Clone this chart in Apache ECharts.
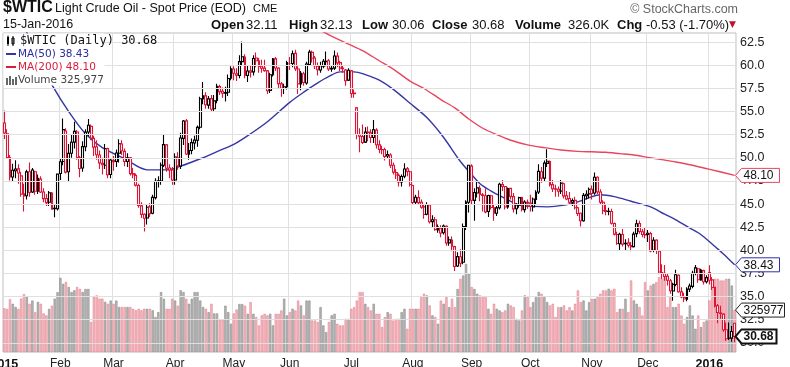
<!DOCTYPE html>
<html><head><meta charset="utf-8">
<script src="https://cdn.jsdelivr.net/npm/echarts/dist/echarts.min.js"></script>
<style>html,body{margin:0;padding:0;background:#fff}#c{width:790px;height:367px}</style>
</head><body><div id="c"></div>
<script>
// rows: [day, open, high, low, close, volume (thousands)]
const prevClose2014 = 53.27;
const jan2015 = [[2,53.76,55.11,52.03,52.69,340],[5,52.61,53.09,49.92,50.04,335],[6,50.02,50.30,47.55,47.93,410],[7,47.93,49.35,47.40,48.65,375],[8,48.60,49.75,47.80,48.79,350],[9,48.80,49.30,47.20,48.36,335],[12,48.05,48.50,45.80,46.07,415],[13,46.10,47.20,44.20,45.89,450],[14,45.90,48.70,45.50,48.48,430],[15,48.50,49.50,45.80,46.25,375],[16,46.30,48.90,46.20,48.69,400],[20,48.50,48.60,46.00,46.39,310],[21,46.40,48.20,46.10,47.78,390],[22,47.70,48.00,46.20,46.31,375],[23,46.30,46.70,45.20,45.59,300],[26,45.60,46.10,44.80,45.15,285],[27,45.20,46.40,44.80,46.23,335],[28,46.20,46.30,44.40,44.45,360],[29,44.50,45.00,43.58,44.53,415],[30,44.50,48.30,44.30,48.24,465]];
const feb2015 = [[2,48.30,49.90,47.60,49.57,577],[3,49.60,54.24,49.20,53.05,530],[4,52.90,53.20,48.30,48.45,545],[5,48.50,51.50,47.40,50.48,505],[6,50.50,52.50,50.00,51.69,466],[9,51.70,53.90,51.00,52.86,480],[10,52.80,53.00,49.80,50.02,505],[11,50.00,50.20,47.90,48.84,490],[12,48.90,51.80,48.50,51.21,466],[13,51.20,53.10,50.70,52.78,490],[17,52.80,54.20,52.30,53.53,490],[18,53.40,53.60,51.90,52.14,233],[19,52.10,52.40,50.20,51.16,430],[20,51.20,51.90,49.80,50.34,440],[23,50.30,50.80,48.80,49.45,415],[24,49.40,50.00,48.20,49.25,415],[25,49.20,51.50,48.80,50.99,390],[26,51.00,51.10,47.80,48.17,375],[27,48.20,49.90,47.80,49.76,400]];
const mar2015 = [[2,49.70,50.20,48.60,49.59,375],[3,49.60,50.90,49.00,50.52,400],[4,50.50,52.00,49.50,51.53,350],[5,51.50,51.90,50.30,50.76,350],[6,50.70,51.00,49.10,49.61,350],[9,49.60,50.50,49.00,50.00,350],[10,50.00,50.10,48.10,48.29,350],[11,48.30,48.90,47.80,48.17,336],[12,48.10,48.30,46.90,47.05,324],[13,47.00,47.20,44.60,44.84,336],[16,44.80,45.20,43.50,43.88,324],[17,43.90,44.00,42.03,43.46,336],[18,43.50,45.00,42.80,44.66,336],[19,44.70,45.10,43.60,43.96,336],[20,44.00,46.00,43.90,45.72,324],[23,45.70,47.80,45.50,47.45,272],[24,47.50,48.00,46.80,47.51,310],[25,47.50,49.50,47.10,49.21,466],[26,49.20,52.48,49.00,51.43,414],[27,51.40,51.50,48.50,48.87,336],[30,48.90,49.30,47.80,48.68,336],[31,48.70,49.00,47.10,47.60,414]];
const apr2015 = [[1,47.60,50.50,47.10,50.09,400],[2,50.00,50.60,48.70,49.14,360],[6,49.10,52.70,48.80,52.14,480],[7,52.10,54.10,51.40,53.98,466],[8,54.00,54.20,50.30,50.42,414],[9,50.40,51.60,49.80,50.79,375],[10,50.80,52.10,50.40,51.64,414],[13,51.60,52.40,50.90,51.91,466],[14,51.90,53.50,51.20,53.29,466],[15,53.30,56.60,53.10,56.39,400],[16,56.40,58.20,55.80,56.71,350],[17,56.70,57.10,55.30,55.74,336],[20,55.70,56.70,55.30,56.38,310],[21,56.40,56.80,55.00,55.26,375],[22,55.30,56.80,55.00,56.16,300],[23,56.20,58.00,55.90,57.74,300],[24,57.70,57.90,56.80,57.15,250],[27,57.20,57.60,56.50,56.99,250],[28,57.00,57.70,56.10,57.06,360],[29,57.10,59.00,56.70,58.58,310],[30,58.60,59.90,58.40,59.63,220]];
const may2015 = [[1,59.60,59.90,58.40,59.15,300],[4,59.10,59.70,58.30,58.93,330],[5,58.90,61.10,58.60,60.40,373],[6,60.40,62.58,60.00,60.93,373],[7,60.90,61.20,58.60,58.94,360],[8,58.90,60.00,58.20,59.39,297],[11,59.40,60.00,58.70,59.25,388],[12,59.30,61.10,58.90,60.75,297],[13,60.80,61.40,59.80,60.50,272],[14,60.50,60.80,59.20,59.88,207],[15,59.90,60.60,59.20,59.69,285],[18,59.70,60.60,59.30,59.43,297],[19,59.40,59.50,56.90,57.26,285],[20,57.30,59.20,57.00,58.98,297],[21,59.00,60.80,58.80,60.72,207],[22,60.70,60.90,59.40,59.72,297],[26,59.70,59.80,57.50,58.03,297],[27,58.00,58.20,56.60,57.51,323],[28,57.50,58.00,56.90,57.68,414],[29,57.70,60.50,57.40,60.30,285]];
const jun2015 = [[1,60.20,60.90,59.50,60.20,310],[2,60.20,61.60,59.80,61.26,336],[3,61.30,61.70,59.40,59.64,323],[4,59.60,59.90,56.90,58.00,400],[5,58.00,59.40,57.30,59.13,362],[8,59.10,59.30,57.80,58.14,285],[9,58.10,60.40,57.90,60.14,400],[10,60.10,61.70,60.00,61.43,400],[11,61.40,61.60,60.30,60.77,245],[12,60.80,61.00,59.60,59.96,245],[15,59.90,60.30,58.90,59.52,233],[16,59.50,60.40,59.20,59.97,349],[17,59.90,60.70,59.70,60.45,207],[18,60.40,61.50,59.90,60.45,155],[19,60.50,60.70,59.40,59.61,233],[22,59.60,60.00,59.30,59.68,285],[23,59.70,61.60,59.50,61.01,297],[24,61.00,61.40,59.80,60.27,220],[25,60.30,60.50,59.40,59.70,207],[26,59.70,60.00,59.20,59.63,207],[29,59.50,59.60,57.80,58.33,258],[30,58.40,59.70,58.30,59.47,258]];
const jul2015 = [[1,59.40,59.50,56.50,56.96,336],[2,57.00,57.40,56.50,56.93,349],[6,55.40,55.50,52.00,52.53,400],[7,52.50,53.20,50.60,52.33,466],[8,52.30,53.60,51.50,51.65,466],[9,51.70,53.30,51.60,52.78,375],[10,52.80,53.40,51.80,52.74,349],[13,52.70,53.10,51.60,52.20,323],[14,52.20,54.10,51.60,53.04,375],[15,53.00,53.20,51.00,51.41,297],[16,51.40,51.90,50.50,50.91,297],[17,50.90,51.30,50.40,50.89,194],[20,50.90,51.10,49.70,50.15,272],[21,50.20,50.80,49.90,50.36,310],[22,50.30,50.50,48.90,49.19,297],[23,49.20,49.50,48.20,48.45,245],[24,48.40,48.80,47.70,48.14,258],[27,48.10,48.30,46.90,47.39,258],[28,47.40,48.20,46.90,47.98,310],[29,48.00,49.40,47.80,48.79,336],[30,48.80,49.00,48.00,48.52,181],[31,48.50,48.60,46.90,47.12,336]];
const aug2015 = [[3,47.00,47.10,45.00,45.17,336],[4,45.20,46.00,44.90,45.74,336],[5,45.70,46.50,44.90,45.15,336],[6,45.20,45.50,44.50,44.66,427],[7,44.70,44.90,43.40,43.87,453],[10,43.90,45.20,43.80,44.96,440],[11,44.90,45.00,42.90,43.08,362],[12,43.10,43.80,42.40,43.30,285],[13,43.30,43.60,42.10,42.23,272],[14,42.20,42.80,41.90,42.50,220],[17,42.40,42.70,41.40,41.87,400],[18,41.90,42.80,41.70,42.62,375],[19,42.60,42.70,40.50,40.80,427],[20,40.80,41.50,40.50,41.14,349],[21,41.10,41.50,39.90,40.45,414],[24,40.40,40.50,37.75,38.24,349],[25,38.30,39.80,38.20,39.31,490],[26,39.30,40.10,38.20,38.60,569],[27,38.70,42.90,38.50,42.56,595],[28,42.50,45.40,42.20,45.22,685],[31,45.20,49.20,44.10,49.20,608]];
const sep2015 = [[1,49.10,49.30,44.90,45.41,505],[2,45.40,46.70,43.20,46.25,490],[3,46.20,47.50,45.70,46.75,453],[4,46.70,47.00,45.30,46.05,440],[8,46.00,46.20,44.20,45.94,427],[9,45.90,46.70,44.00,44.15,427],[10,44.20,46.00,43.60,45.92,336],[11,45.90,46.00,44.40,44.63,297],[14,44.60,44.90,43.20,44.00,375],[15,44.00,44.80,43.70,44.59,336],[16,44.60,47.30,44.40,47.15,323],[17,47.10,47.60,46.40,46.90,310],[18,46.90,46.90,44.40,44.68,323],[21,44.70,46.80,44.50,46.68,375],[22,46.70,46.70,45.50,45.83,362],[23,45.80,46.20,44.10,44.48,349],[24,44.50,45.10,43.90,44.91,258],[25,44.90,45.80,44.60,45.70,245],[28,45.70,45.80,44.20,44.43,323],[29,44.40,45.40,44.10,45.23,440],[30,45.20,45.50,44.50,45.09,427]];
const oct2015 = [[1,45.10,46.00,44.20,44.74,349],[2,44.70,45.70,44.20,45.54,388],[5,45.50,46.50,45.00,46.26,427],[6,46.30,49.30,46.10,48.53,466],[7,48.50,49.00,47.30,47.81,453],[8,47.80,49.70,47.40,49.43,427],[9,49.40,50.92,49.00,49.63,388],[12,49.60,49.70,46.90,47.10,362],[13,47.10,47.60,46.30,46.66,375],[14,46.60,47.10,45.80,46.64,272],[15,46.60,46.90,45.80,46.38,349],[16,46.40,47.60,46.10,47.26,349],[19,47.20,47.30,45.60,45.89,362],[20,45.90,46.40,45.40,45.55,323],[21,45.60,46.30,45.00,45.20,349],[22,45.20,45.60,44.80,45.38,323],[23,45.40,45.80,44.40,44.60,375],[26,44.60,44.70,43.70,43.98,479],[27,44.00,44.10,42.58,43.20,388],[28,43.20,46.20,43.10,45.94,401],[29,45.90,46.50,45.50,46.06,323],[30,46.10,46.80,45.60,46.59,388]];
const nov2015 = [[2,46.60,47.00,45.50,46.14,414],[3,46.20,48.40,46.00,47.90,414],[4,47.90,48.00,46.10,46.32,427],[5,46.30,46.60,44.90,45.20,453],[6,45.20,45.40,43.90,44.29,479],[9,44.30,45.00,43.80,44.21,479],[10,44.20,44.60,43.80,44.21,492],[11,44.20,44.50,42.80,42.93,479],[12,42.90,43.00,41.60,41.75,492],[13,41.70,42.00,40.60,40.74,310],[16,40.70,41.90,40.00,41.74,336],[17,41.70,42.30,40.40,40.67,336],[18,40.70,41.20,40.00,40.75,414],[19,40.80,41.30,40.30,40.54,310],[20,40.50,40.90,39.90,40.39,556],[23,40.40,42.00,40.30,41.75,401],[24,41.80,43.30,41.40,42.87,375],[25,42.90,43.20,41.80,42.04,349],[27,42.00,42.30,41.40,41.71,284],[30,41.70,42.50,41.30,41.65,543]];
const dec2015 = [[1,41.70,42.20,40.90,41.85,479],[2,41.80,42.00,39.80,39.94,517],[3,40.00,41.40,39.80,41.08,530],[4,41.10,41.20,39.60,39.97,543],[7,39.90,40.00,37.40,37.65,582],[8,37.60,38.50,36.90,37.51,569],[9,37.50,38.40,36.70,37.16,582],[10,37.20,37.50,36.20,36.76,349],[11,36.70,36.90,35.30,35.62,427],[14,35.60,36.50,34.53,36.31,349],[15,36.30,37.90,36.10,37.35,349],[16,37.30,37.40,35.40,35.52,375],[17,35.50,36.00,34.80,34.95,284],[18,34.90,35.40,34.40,34.73,220],[21,34.70,36.00,34.50,35.81,272],[22,35.80,36.40,35.50,36.14,362],[23,36.10,37.80,35.90,37.50,284],[24,37.50,38.40,37.30,38.10,181],[28,38.00,38.10,36.50,36.81,284],[29,36.80,38.00,36.70,37.87,194],[30,37.80,37.90,36.30,36.60,233],[31,36.60,37.30,36.40,37.04,245]];
const jan2016 = [[4,37.60,38.39,36.30,36.76,401],[5,36.80,37.10,35.70,35.97,556],[6,36.00,36.00,33.80,33.97,569],[7,34.00,34.20,32.10,33.27,569],[8,33.20,34.00,32.60,33.16,556],[11,33.10,33.20,31.20,31.41,556],[12,31.40,32.20,30.20,30.44,569],[13,30.50,32.20,30.30,30.48,569],[14,30.50,31.80,30.10,31.21,517],[15,32.11,32.13,30.06,30.68,325.977]];

const monthKeys = ['2015-01','2015-02','2015-03','2015-04','2015-05','2015-06','2015-07','2015-08','2015-09','2015-10','2015-11','2015-12','2016-01'];
const monthRows = [jan2015,feb2015,mar2015,apr2015,may2015,jun2015,jul2015,aug2015,sep2015,oct2015,nov2015,dec2015,jan2016];
const monthNames = ['Jan','Feb','Mar','Apr','May','Jun','Jul','Aug','Sep','Oct','Nov','Dec'];
const priceTicks = [30,32.5,35,37.5,40,42.5,45,47.5,50,52.5,55,57.5,60,62.5];

const ma50Points = [['2015-01-12',64.8],['2015-01-14',63.55],['2015-01-21',60.8],['2015-01-28',57.9],['2015-02-05',55.0],['2015-02-13',52.6],['2015-02-24',51.1],['2015-03-06',49.9],['2015-03-18',48.7],['2015-03-27',48.7],['2015-04-06',49.1],['2015-04-15',49.9],['2015-04-24',50.8],['2015-05-01',51.45],['2015-05-11',52.6],['2015-05-19',53.9],['2015-06-01',56.0],['2015-06-08',57.1],['2015-06-15',58.1],['2015-06-19',58.8],['2015-06-25',59.3],['2015-07-02',59.3],['2015-07-09',59.0],['2015-07-16',58.4],['2015-07-23',57.4],['2015-07-31',55.9],['2015-08-10',54.35],['2015-08-18',52.2],['2015-08-26',49.6],['2015-09-01',48.2],['2015-09-04',47.2],['2015-09-11',46.4],['2015-09-16',45.9],['2015-09-22',45.3],['2015-09-25',44.9],['2015-10-02',44.75],['2015-10-09',44.7],['2015-10-15',44.8],['2015-10-21',45.0],['2015-10-27',45.35],['2015-10-30',45.7],['2015-11-05',46.0],['2015-11-12',45.8],['2015-11-20',45.3],['2015-12-02',44.7],['2015-12-09',43.9],['2015-12-15',43.3],['2015-12-22',42.4],['2015-12-28',41.9],['2015-12-31',41.2],['2016-01-06',40.4],['2016-01-11',39.6],['2016-01-15',38.43]];
const ma200Points = [['2015-06-05',64.6],['2015-06-09',64.2],['2015-06-16',63.75],['2015-06-23',63.0],['2015-06-30',62.3],['2015-07-08',61.6],['2015-07-16',60.5],['2015-07-23',59.6],['2015-07-31',58.3],['2015-08-07',57.5],['2015-08-17',56.3],['2015-08-24',55.4],['2015-08-31',54.2],['2015-09-08',53.2],['2015-09-15',52.5],['2015-09-22',51.9],['2015-09-30',51.4],['2015-10-08',51.1],['2015-10-16',50.85],['2015-10-26',50.7],['2015-11-02',50.65],['2015-11-09',50.6],['2015-11-16',50.45],['2015-11-23',50.3],['2015-12-01',50.05],['2015-12-08',49.8],['2015-12-15',49.55],['2015-12-22',49.25],['2015-12-30',48.9],['2016-01-07',48.55],['2016-01-15',48.10]];

const RED = '#dc1436', BLACK = '#000000';
const BLUE = '#3636a6', MA200C = '#e8465f';
const FONT = '"Liberation Sans", Arial, sans-serif';

const categories = [], candleData = [], volumeData = [];
let prev = prevClose2014;
monthKeys.forEach((mk, mi) => {
  monthRows[mi].forEach(r => {
    const [d, o, h, l, c, v] = r;
    categories.push(mk + '-' + String(d).padStart(2, '0'));
    const down = c < prev;
    const col = down ? RED : BLACK;
    candleData.push({ value: [o, c, l, h], itemStyle: { color: '#ffffff', color0: col, borderColor: col, borderColor0: col } });
    volumeData.push({ value: v, itemStyle: { color: down ? '#f3bcc2' : '#b5b5b5', borderColor: down ? '#e5808d' : '#8c8c8c' } });
    prev = c;
  });
});
const firstIdx = new Set();
categories.forEach((c, i) => { if (i === 0 || c.slice(0, 7) !== categories[i - 1].slice(0, 7)) firstIdx.add(i); });
const isMonthStart = (i) => firstIdx.has(i);
const isPriceTick = (v) => priceTicks.some(t => Math.abs(t - v) < 1e-6);

const chart = echarts.init(document.getElementById('c'), null, { renderer: 'canvas' });
chart.setOption({
  animation: false,
  backgroundColor: '#ffffff',
  grid: { left: 3, right: 54, top: 33, bottom: 15, show: true, borderColor: '#bdbdbd', borderWidth: 1, backgroundColor: 'rgba(0,0,0,0)', containLabel: false, outerBoundsMode: 'none' },
  xAxis: {
    type: 'category', data: categories, boundaryGap: true,
    axisLine: { show: false }, axisTick: { show: false },
    axisLabel: {
      interval: isMonthStart, margin: 6, color: '#222', fontSize: 12, fontFamily: FONT,
      alignMinLabel: 'center', alignMaxLabel: 'center',
      formatter: (v) => { const m = +v.slice(5, 7); return m === 1 ? '{y|' + v.slice(0, 4) + '}' : monthNames[m - 1]; },
      rich: { y: { fontWeight: 'bold', fontSize: 12.5, color: '#111', fontFamily: FONT } }
    },
    splitLine: { show: true, interval: isMonthStart, lineStyle: { color: '#e0e0e0', width: 1 } }
  },
  yAxis: [
    { type: 'value', position: 'right', min: 29, max: 63.5, interval: 0.5,
      axisLine: { show: false }, axisTick: { show: false }, splitLine: { show: false },
      axisLabel: { margin: 4, color: '#222', fontSize: 12.5, fontFamily: FONT, formatter: (v) => isPriceTick(v) ? v.toFixed(1) : '' } },
    { type: 'value', min: 0, max: 2480, show: false }
  ],
  series: [
    { type: 'line', data: [], yAxisIndex: 0, z: 0, silent: true,
      markLine: { silent: true, symbol: ['none', 'none'], animation: false, label: { show: false },
        lineStyle: { color: '#e0e0e0', width: 1, type: 'solid' }, emphasis: { disabled: true },
        data: priceTicks.map(v => ({ yAxis: v })) } },
    { type: 'bar', data: volumeData, xAxisIndex: 0, yAxisIndex: 1, barWidth: 2.3, z: 1, silent: true, itemStyle: { borderWidth: 0.6 } },
    { type: 'line', data: ma200Points, yAxisIndex: 0, smooth: 0.3, showSymbol: false, z: 2, silent: true, lineStyle: { color: MA200C, width: 1.4 } },
    { type: 'line', data: ma50Points, yAxisIndex: 0, smooth: 0.3, showSymbol: false, z: 2, silent: true, lineStyle: { color: BLUE, width: 1.4 } },
    { type: 'candlestick', data: candleData, yAxisIndex: 0, barWidth: 2.4, z: 3, silent: true, itemStyle: { borderWidth: 1.1 } }
  ]
});

// annotation graphics
const lastRow = jan2016[jan2016.length - 1];
const lastClose = lastRow[4];
const lastVol = Math.round(lastRow[5] * 1000);
const lastMa50 = ma50Points[ma50Points.length - 1][1];
const lastMa200 = ma200Points[ma200Points.length - 1][1];
const plotRight = 790 - 54;

function tag(value, axisIdx, text, color, w, bold) {
  const y = chart.convertToPixel({ yAxisIndex: axisIdx }, value);
  const x0 = plotRight - 0.5, h = 7;
  return [
    { type: 'polygon', z: 100, shape: { points: [[x0, y], [x0 + 6, y - h], [x0 + 6 + w, y - h], [x0 + 6 + w, y + h], [x0 + 6, y + h]] },
      style: { fill: '#ffffff', stroke: color, lineWidth: bold ? 2 : 1 } },
    { type: 'text', z: 101, x: x0 + 8, y: y + 0.5, style: { text: text, fill: '#111', font: (bold ? 'bold ' : '') + '12px ' + FONT, verticalAlign: 'middle', align: 'left' } }
  ];
}
function txt(x, y, text, font, fill, align) {
  return { type: 'text', z: 100, x: x, y: y, style: { text: text, font: font, fill: fill || '#111', verticalAlign: 'middle', align: align || 'left' } };
}
const g = [];
g.push(txt(3, 8, '$WTIC', 'bold 16px ' + FONT));
g.push(txt(55, 8.5, 'Light Crude Oil - Spot Price (EOD)', '12.5px ' + FONT));
g.push(txt(253, 9, 'CME', '11px ' + FONT));
g.push(txt(738, 10, '\u00A9 StockCharts.com', '12.5px ' + FONT, '#666', 'right'));
g.push(txt(3, 25, '15-Jan-2016', '12.5px ' + FONT));
[[211, 'Open', 1], [246, '32.11', 0], [289, 'High', 1], [320, '32.13', 0], [362, 'Low', 1], [392, '30.06', 0],
 [432, 'Close', 1], [472, lastClose.toFixed(2), 0], [515, 'Volume', 1], [568, '326.0K', 0], [617, 'Chg', 1], [646, '-0.53 (-1.70%)', 0]]
  .forEach(p => g.push(txt(p[0], 25, p[1], (p[2] ? 'bold ' : '') + '13px ' + FONT, '#111')));
g.push(txt(729, 25, '\u25BC', '9px "DejaVu Sans"', '#c0102c'));
// legend box
g.push({ type: 'rect', z: 90, shape: { x: 3.5, y: 33.5, width: 101, height: 52 }, style: { fill: '#ffffff' } });
g.push({ type: 'rect', z: 91, shape: { x: 7, y: 37, width: 2, height: 7 }, style: { fill: '#000' } });
g.push({ type: 'line', z: 91, shape: { x1: 8, y1: 35.5, x2: 8, y2: 46 }, style: { stroke: '#000', lineWidth: 1 } });
g.push({ type: 'rect', z: 91, shape: { x: 12, y: 38, width: 2, height: 6 }, style: { fill: '#fff', stroke: '#000', lineWidth: 1 } });
g.push({ type: 'line', z: 91, shape: { x1: 13, y1: 36, x2: 13, y2: 46 }, style: { stroke: '#000', lineWidth: 1 } });
g.push(txt(20, 41, '$WTIC (Daily) ' + lastClose.toFixed(2), '12px "DejaVu Sans Mono"', '#111'));
g.push({ type: 'line', z: 91, shape: { x1: 6, y1: 54, x2: 16, y2: 54 }, style: { stroke: BLUE, lineWidth: 2 } });
g.push(txt(18, 54.5, 'MA(50) ' + lastMa50.toFixed(2), '10.5px "DejaVu Sans"', '#2d2d9c'));
g.push({ type: 'line', z: 91, shape: { x1: 6, y1: 67, x2: 16, y2: 67 }, style: { stroke: '#d81e3c', lineWidth: 2 } });
g.push(txt(18, 67.5, 'MA(200) ' + lastMa200.toFixed(2), '10.5px "DejaVu Sans"', '#d81e3c'));
[[6, 78, 7], [9, 76, 9], [12, 79, 6], [15, 77, 8]].forEach(b => g.push({ type: 'rect', z: 91, shape: { x: b[0], y: b[1], width: 2, height: b[2] }, style: { fill: '#666' } }));
g.push(txt(18, 80.5, 'Volume ' + lastVol.toLocaleString('en-US'), '10.5px "DejaVu Sans"', '#444'));
// value tags at right
g.push(...tag(lastMa200, 0, lastMa200.toFixed(2), MA200C, 38, false));
g.push(...tag(lastMa50, 0, lastMa50.toFixed(2), '#3030b0', 38, false));
g.push(...tag(lastRow[5], 1, String(lastVol), '#222', 43, false));
g.push(...tag(lastClose, 0, lastClose.toFixed(2), '#111', 35, true));
chart.setOption({ graphic: g });
</script></body></html>
